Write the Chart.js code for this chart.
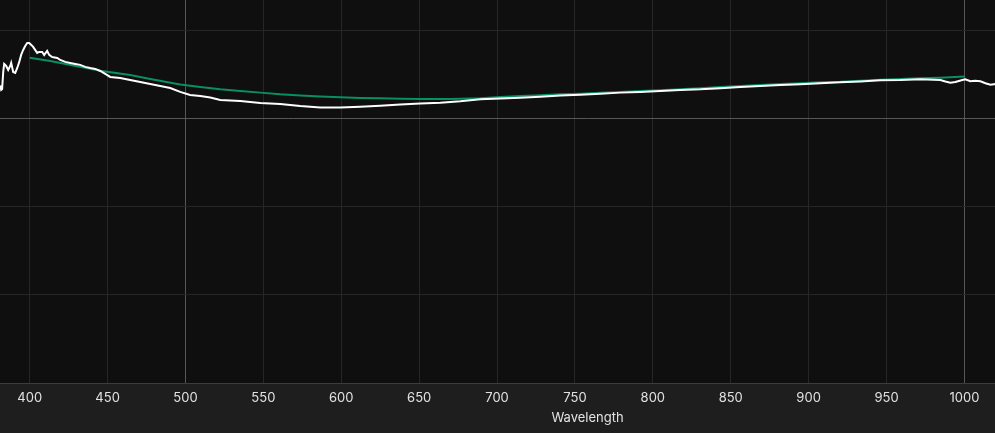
<!DOCTYPE html>
<html>
<head>
<meta charset="utf-8">
<script src="https://cdn.jsdelivr.net/npm/chart.js@4"></script>
<style>
  html, body { margin: 0; padding: 0; background: #1e1e1e; overflow: hidden; width: 995px; height: 433px; }
  #wrap { position: relative; width: 1175px; height: 433px; }
</style>
</head>
<body>
<div id="wrap"><canvas id="c"></canvas></div>
<script>
// Measured spectrum (white)
const measuredWavelength = [381.1,381.7,382.3,383.0,383.6,384.9,386.2,387.5,388.1,389.4,390.7,392.0,393.3,394.5,395.8,397.1,398.4,399.7,401.0,402.2,403.5,404.8,406.1,408.0,409.3,411.2,412.5,414.4,417.7,419.6,422.8,426.0,429.2,432.4,435.6,438.8,442.1,445.3,448.5,451.7,458.1,464.5,471.0,477.4,483.8,490.2,496.6,503.0,509.5,515.9,522.3,535.2,548.0,560.8,573.7,586.5,599.4,612.2,625.0,637.9,650.7,663.6,676.4,689.2,702.1,714.9,727.8,740.6,753.4,766.3,779.1,792.0,804.8,817.6,830.5,843.3,856.2,869.0,881.9,894.7,907.5,920.4,933.2,946.1,958.9,971.7,984.6,987.8,991.0,994.2,998.7,1000.6,1003.8,1007.0,1010.3,1013.5,1016.7,1019.9,1023.0];
const measuredValue = [0.38,0.33,0.34,0.533,0.624,0.601,0.555,0.601,0.635,0.533,0.522,0.578,0.647,0.726,0.783,0.828,0.862,0.862,0.840,0.817,0.783,0.749,0.760,0.760,0.726,0.771,0.726,0.703,0.692,0.669,0.647,0.635,0.624,0.613,0.590,0.578,0.567,0.544,0.510,0.476,0.465,0.442,0.419,0.397,0.374,0.351,0.306,0.271,0.260,0.243,0.215,0.203,0.181,0.169,0.146,0.129,0.128,0.137,0.149,0.164,0.174,0.184,0.200,0.223,0.232,0.241,0.252,0.264,0.275,0.286,0.298,0.306,0.317,0.328,0.336,0.349,0.362,0.374,0.385,0.393,0.404,0.415,0.424,0.438,0.441,0.450,0.441,0.425,0.411,0.419,0.441,0.450,0.427,0.434,0.427,0.404,0.388,0.396,0.39];

// Fitted curve (green)
const fitWavelength = [400,413.2,445.3,464.5,477.4,496.6,509.5,522.3,535.2,548.0,560.8,573.7,586.5,599.4,612.2,625.0,637.9,650.7,670.0,689.2,702.1,714.9,727.8,740.6,753.4,766.3,779.1,792.0,804.8,817.6,830.5,843.3,856.2,869.0,881.9,894.7,907.5,920.4,933.2,946.1,958.9,971.7,984.6,1000];
const fitValue = [0.695,0.658,0.547,0.499,0.453,0.391,0.361,0.336,0.317,0.298,0.279,0.266,0.254,0.245,0.238,0.233,0.229,0.227,0.226,0.235,0.249,0.260,0.268,0.279,0.286,0.298,0.306,0.317,0.325,0.336,0.349,0.361,0.374,0.385,0.396,0.404,0.416,0.422,0.434,0.445,0.453,0.461,0.468,0.482];

const xTickValues = [400,450,500,550,600,650,700,750,800,850,900,950,1000];
const xMajorTicks = [500,1000];

const toPoints = (xs, ys) => xs.map((x, i) => ({ x, y: ys[i] }));

const bgPlugin = {
  id: 'bg',
  beforeDraw(chart) {
    const { ctx, chartArea: a } = chart;
    ctx.save();
    ctx.fillStyle = '#1e1e1e';
    ctx.fillRect(0, 0, chart.width, chart.height);
    ctx.fillStyle = '#0f0f0f';
    ctx.fillRect(a.left, a.top, a.right - a.left, a.bottom - a.top);
    ctx.restore();
  }
};

new Chart(document.getElementById('c'), {
  type: 'line',
  data: {
    datasets: [
      {
        label: 'Measured',
        data: toPoints(measuredWavelength, measuredValue),
        borderColor: '#ffffff',
        borderWidth: 2,
        pointRadius: 0,
        tension: 0
      },
      {
        label: 'Fit',
        data: toPoints(fitWavelength, fitValue),
        borderColor: '#0a8f60',
        borderWidth: 2,
        pointRadius: 0,
        tension: 0
      }
    ]
  },
  options: {
    responsive: true,
    maintainAspectRatio: false,
    animation: false,
    devicePixelRatio: 1,
    layout: { padding: 0 },
    plugins: { legend: { display: false }, tooltip: { enabled: false } },
    scales: {
      x: {
        type: 'linear',
        min: 380.93,
        max: 1135.2,
        afterBuildTicks(scale) {
          scale.ticks = xTickValues.map(v => ({ value: v }));
        },
        afterFit(scale) {
          scale.height = 50;
        },
        ticks: {
          color: '#e2e2e2',
          font: { family: 'Inter', size: 13 },
          padding: 7,
          maxRotation: 0,
          autoSkip: false,
          callback: v => String(v)
        },
        grid: {
          drawTicks: false,
          color: ctx => xMajorTicks.includes(ctx.tick && ctx.tick.value) ? '#575757' : '#262626',
          lineWidth: 1
        },
        border: { color: '#3c3c3c', width: 1 },
        title: {
          display: true,
          text: 'Wavelength',
          color: '#e2e2e2',
          font: { family: 'Inter', size: 13 },
          padding: { top: 4, bottom: 7 }
        }
      },
      y: {
        type: 'linear',
        min: -3,
        max: 1.35,
        ticks: { display: false, stepSize: 1 },
        grid: {
          drawTicks: false,
          color: ctx => {
            const v = ctx.tick ? ctx.tick.value : NaN;
            if (v === 0) return '#575757';
            if (Number.isInteger(v)) return '#262626';
            return 'rgba(0,0,0,0)';
          }
        },
        border: { display: false }
      }
    }
  },
  plugins: [bgPlugin]
});
</script>
</body>
</html>
